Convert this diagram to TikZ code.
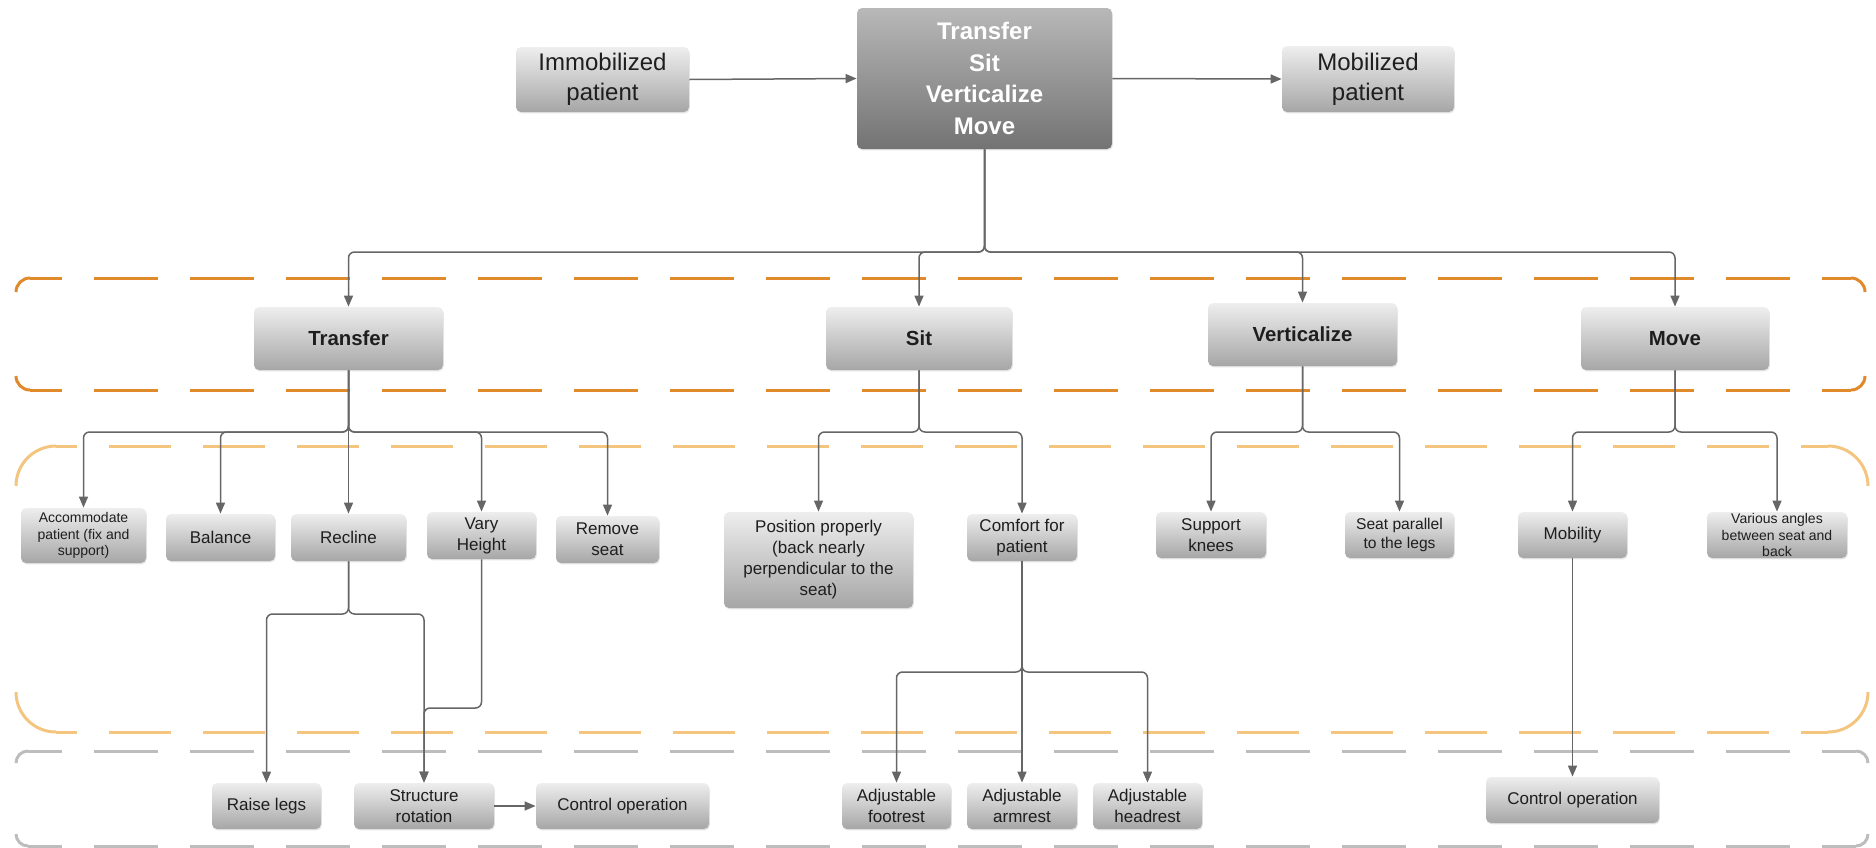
\documentclass[tikz,border=0pt]{standalone}
\usepackage{fontspec}
\setmainfont{Liberation Sans}
\usetikzlibrary{arrows.meta,shadows,calc}
\definecolor{boxtop}{HTML}{EEEEEE}
\definecolor{boxbot}{HTML}{A6A6A6}
\definecolor{maintop}{HTML}{B8B8B8}
\definecolor{mainbot}{HTML}{737373}
\definecolor{conncol}{HTML}{666666}
\definecolor{framedark}{HTML}{E08A2B}
\definecolor{framelight}{HTML}{F3C57E}
\definecolor{framegray}{HTML}{BDBDBD}
\definecolor{textcol}{HTML}{1E1E1E}
\tikzset{
  box/.style={draw=none, rounded corners=2.5pt, top color=boxtop, bottom color=boxbot,
    inner sep=0pt, align=center, text=textcol,
    font=\fontsize{8.5}{10.5}\selectfont,
    drop shadow={opacity=0.2, shadow xshift=0.4pt, shadow yshift=-0.7pt}},
  bigtext/.style={font=\fontsize{12}{14.8}\selectfont},
  lvlone/.style={font=\fontsize{10.2}{12}\selectfont\bfseries},
  smalltext/.style={font=\fontsize{7}{8.4}\selectfont},
  midtext/.style={font=\fontsize{7.8}{9.4}\selectfont},
  mainbox/.style={top color=maintop, bottom color=mainbot, text=white,
    font=\fontsize{12}{15.8}\selectfont\bfseries},
  conn/.style={draw=conncol, line width=0.75pt, rounded corners=3pt,
    -{Triangle[length=5.5pt,width=4.5pt]}},
  frA/.style={draw=framedark, line width=1.5pt},
  frB/.style={draw=framelight, line width=1.5pt},
  frC/.style={draw=framegray, line width=1.5pt},
  dashA/.style={dash pattern=on 32pt off 16pt, dash phase=16pt},
  dashB/.style={dash pattern=on 31pt off 16pt, dash phase=20.5pt},
  dashC/.style={dash pattern=on 32pt off 16pt, dash phase=15pt},
}
\newcommand\mkbox[7]{%
  \pgfmathsetmacro\mbcx{(#2+#4)/2}%
  \pgfmathsetmacro\mbcy{(#3+#5)/2}%
  \pgfmathsetmacro\mbw{(#4-#2)*0.5}%
  \pgfmathsetmacro\mbh{(#5-#3)*0.5}%
  \node[box,#6,minimum width=\mbw pt,minimum height=\mbh pt] (#1) at (\mbcx,\mbcy) {#7};}
\begin{document}
\begin{tikzpicture}[x=0.5pt,y=-0.5pt]
\useasboundingbox (0,0) rectangle (1876,847);
% frame: dark orange
\draw[frA,rounded corners=7pt] (16,292) |- (30,278);
\draw[frA,dashA] (30,278) -- (1851,278);
\draw[frA,rounded corners=7pt] (1851,278) -| (1865,292);
\draw[frA,rounded corners=7pt] (16,376) |- (30,390);
\draw[frA,dashA] (30,390) -- (1851,390);
\draw[frA,rounded corners=7pt] (1851,390) -| (1865,376);
% frame: light orange
\draw[frB,rounded corners=20pt] (16,486) |- (56,446);
\draw[frB,dashB] (56,446) -- (1828,446);
\draw[frB,rounded corners=20pt] (1828,446) -| (1868,486);
\draw[frB,rounded corners=20pt] (16,692) |- (56,732);
\draw[frB,dashB] (56,732) -- (1828,732);
\draw[frB,rounded corners=20pt] (1828,732) -| (1868,692);
% frame: gray
\draw[frC,rounded corners=6pt] (16,763) |- (28,751);
\draw[frC,dashC] (28,751) -- (1856,751);
\draw[frC,rounded corners=6pt] (1856,751) -| (1868,763);
\draw[frC,rounded corners=6pt] (16,834) |- (28,846);
\draw[frC,dashC] (28,846) -- (1856,846);
\draw[frC,rounded corners=6pt] (1856,846) -| (1868,834);
% levels
\coordinate (L1) at (0,252);
\coordinate (L2) at (0,432);
\coordinate (L3) at (0,614);
\coordinate (L4) at (0,708);
\coordinate (L5) at (0,672);
% nodes
\mkbox{imm}{516}{47}{689}{112}{bigtext}{Immobilized\\patient}
\mkbox{main}{857}{8}{1112}{149}{mainbox}{Transfer\\Sit\\Verticalize\\Move}
\mkbox{mob}{1282}{46}{1454}{112}{bigtext}{Mobilized\\patient}
\mkbox{transfer}{254}{307}{443}{370}{lvlone}{Transfer}
\mkbox{sit}{826}{307}{1012}{370}{lvlone}{Sit}
\mkbox{vert}{1208}{303}{1397}{366}{lvlone}{Verticalize}
\mkbox{move}{1581}{307}{1769}{370}{lvlone}{Move}
\mkbox{acc}{21}{508}{146}{563}{smalltext}{Accommodate\\patient (fix and\\support)}
\mkbox{bal}{166}{514}{275}{561}{}{Balance}
\mkbox{rec}{291}{514}{406}{561}{}{Recline}
\mkbox{vary}{427}{512}{536}{559}{}{Vary\\Height}
\mkbox{rem}{556}{516}{659}{563}{}{Remove\\seat}
\mkbox{pos}{724}{512}{913}{608}{}{Position properly\\(back nearly\\perpendicular to the\\seat)}
\mkbox{comf}{967}{514}{1077}{561}{}{Comfort for\\patient}
\mkbox{knees}{1156}{512}{1266}{558}{}{Support\\knees}
\mkbox{par}{1345}{512}{1454}{558}{midtext}{Seat parallel\\to the legs}
\mkbox{mobi}{1518}{512}{1627}{558}{}{Mobility}
\mkbox{var}{1707}{512}{1847}{558}{smalltext}{Various angles\\between seat and\\back}
\mkbox{raise}{212}{783}{321}{829}{}{Raise legs}
\mkbox{struct}{354}{783}{494}{829}{}{Structure\\rotation}
\mkbox{ctrlA}{536}{783}{709}{829}{}{Control operation}
\mkbox{foot}{842}{783}{951}{829}{}{Adjustable\\footrest}
\mkbox{arm}{967}{783}{1077}{829}{}{Adjustable\\armrest}
\mkbox{head}{1093}{783}{1202}{829}{}{Adjustable\\headrest}
\mkbox{ctrlB}{1486}{777}{1659}{823}{}{Control operation}
% connectors
\draw[conn] (imm.east) -- (main.west);
\draw[conn] (main.east) -- (mob.west);
\draw[conn] (main.south) |- (L1 -| transfer.north) -- (transfer.north);
\draw[conn] (main.south) |- (L1 -| sit.north) -- (sit.north);
\draw[conn] (main.south) |- (L1 -| vert.north) -- (vert.north);
\draw[conn] (main.south) |- (L1 -| move.north) -- (move.north);
\draw[conn] (transfer.south) |- (L2 -| acc.north) -- (acc.north);
\draw[conn] (transfer.south) |- (L2 -| bal.north) -- (bal.north);
\draw[conn] (transfer.south) -- (rec.north);
\draw[conn] (transfer.south) |- (L2 -| vary.north) -- (vary.north);
\draw[conn] (transfer.south) |- (L2 -| rem.north) -- (rem.north);
\draw[conn] (sit.south) |- (L2 -| pos.north) -- (pos.north);
\draw[conn] (sit.south) |- (L2 -| comf.north) -- (comf.north);
\draw[conn] (vert.south) |- (L2 -| knees.north) -- (knees.north);
\draw[conn] (vert.south) |- (L2 -| par.north) -- (par.north);
\draw[conn] (move.south) |- (L2 -| mobi.north) -- (mobi.north);
\draw[conn] (move.south) |- (L2 -| var.north) -- (var.north);
\draw[conn] (rec.south) |- (L3 -| raise.north) -- (raise.north);
\draw[conn] (rec.south) |- (L3 -| struct.north) -- (struct.north);
\draw[conn] (vary.south) |- (L4 -| struct.north) -- (struct.north);
\draw[conn] (comf.south) |- (L5 -| foot.north) -- (foot.north);
\draw[conn] (comf.south) -- (arm.north);
\draw[conn] (comf.south) |- (L5 -| head.north) -- (head.north);
\draw[conn] (mobi.south) -- (ctrlB.north);
\draw[conn] (struct.east) -- (ctrlA.west);
\end{tikzpicture}
\end{document}
